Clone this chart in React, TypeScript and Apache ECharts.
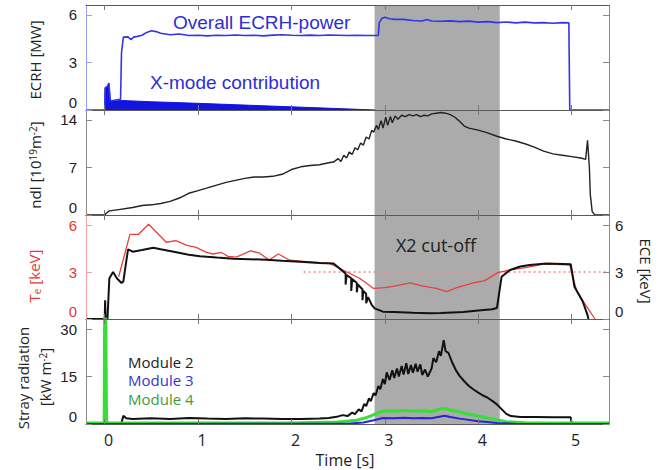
import React, { useEffect, useRef } from 'react';
import * as echarts from 'echarts';

// ---------- data ----------
const timeTicks = [0, 1, 2, 3, 4, 5];
const ecrhTicks = [0, 3, 6];
const ndlTicks = [0, 7, 14];
const teTicks = [0, 3, 6];
const strayTicks = [0, 15, 30];
const cutoffWindow = [2.89, 4.23];
const ecrhThreshold = 3;

const ecrhTotal: number[][] = [
  [-0.2, 0], [0.0, 0], [0.005, 1.4], [0.03, 1.5], [0.045, 1.7], [0.06, 0.6], [0.1, 0.62], [0.17, 0.68],
  [0.18, 3.6], [0.2, 4.6], [0.25, 4.62], [0.28, 4.45], [0.31, 4.6], [0.35, 4.65], [0.4, 4.72], [0.45, 4.9],
  [0.5, 5.0], [0.55, 4.95], [0.6, 4.85], [0.7, 4.75], [0.8, 4.8], [0.9, 4.7], [1.0, 4.72], [1.1, 4.68],
  [1.2, 4.72], [1.3, 4.7], [1.4, 4.74], [1.5, 4.7], [1.6, 4.72], [1.7, 4.68], [1.8, 4.73], [1.9, 4.75],
  [2.0, 4.72], [2.1, 4.7], [2.2, 4.73], [2.3, 4.7], [2.4, 4.74], [2.5, 4.72], [2.6, 4.7], [2.7, 4.72],
  [2.8, 4.7], [2.93, 4.7], [2.94, 5.5], [2.97, 5.8], [3.0, 5.86], [3.05, 5.76], [3.1, 5.72], [3.2, 5.72],
  [3.3, 5.65], [3.4, 5.62], [3.45, 5.72], [3.5, 5.62], [3.6, 5.6], [3.7, 5.63], [3.8, 5.58], [3.9, 5.61],
  [4.0, 5.55], [4.1, 5.58], [4.2, 5.52], [4.3, 5.56], [4.4, 5.5], [4.5, 5.55], [4.6, 5.5], [4.7, 5.52],
  [4.8, 5.48], [4.9, 5.52], [4.97, 5.5], [4.98, 0], [5.4, 0],
];

const xModeContribution: number[][] = [
  [0.0, 0], [0.005, 1.4], [0.03, 1.5], [0.045, 1.7], [0.06, 0.55], [0.18, 0.6], [0.5, 0.52],
  [1.0, 0.42], [1.5, 0.31], [2.0, 0.2], [2.5, 0.09], [2.9, 0],
];

const ndl: number[][] = [
  [-0.2, 0], [0.0, 0], [0.02, 0.3], [0.05, 0.6], [0.15, 0.8], [0.3, 1.1], [0.4, 1.4], [0.5, 1.5],
  [0.6, 1.7], [0.7, 2.0], [0.8, 2.5], [0.9, 3.2], [1.0, 3.6], [1.1, 4.0], [1.2, 4.4], [1.3, 4.8],
  [1.4, 5.1], [1.5, 5.4], [1.6, 5.6], [1.7, 5.6], [1.8, 5.7], [1.9, 6.0], [2.0, 6.7], [2.1, 7.1],
  [2.2, 7.3], [2.3, 7.4], [2.4, 7.7], [2.45, 7.8], [2.5, 8.3], [2.53, 7.9], [2.56, 8.8], [2.59, 8.4],
  [2.62, 9.3], [2.65, 8.9], [2.68, 9.9], [2.71, 9.6], [2.74, 10.6], [2.77, 10.3], [2.8, 11.5], [2.83, 11.2],
  [2.86, 12.5], [2.88, 12.2], [2.91, 13.2], [2.93, 12.6], [2.96, 13.9], [2.98, 12.8], [3.01, 14.4],
  [3.03, 13.2], [3.06, 14.5], [3.08, 13.6], [3.11, 14.6], [3.14, 14.1], [3.18, 14.7], [3.22, 14.5],
  [3.26, 14.8], [3.3, 14.6], [3.34, 14.8], [3.38, 14.5], [3.42, 14.7], [3.46, 14.6], [3.5, 14.9],
  [3.55, 15.0], [3.6, 15.1], [3.65, 15.0], [3.7, 14.8], [3.75, 14.4], [3.8, 13.8], [3.85, 13.1],
  [3.9, 12.8], [4.0, 12.5], [4.1, 12.1], [4.2, 11.6], [4.3, 11.2], [4.4, 10.9], [4.5, 10.5], [4.6, 10.0],
  [4.7, 9.4], [4.8, 9.0], [4.9, 8.8], [5.0, 8.6], [5.1, 8.4], [5.15, 8.2], [5.17, 11.0], [5.19, 7.0],
  [5.2, 3.0], [5.22, 0.5], [5.25, 0], [5.4, 0],
];

const teThomson: number[][] = [
  [0.15, 2.7], [0.27, 5.4], [0.36, 5.4], [0.47, 6.05], [0.66, 4.9], [0.76, 5.0], [0.88, 4.7], [0.98, 4.57],
  [1.09, 4.25], [1.16, 4.15], [1.25, 4.25], [1.32, 4.0], [1.41, 3.95], [1.56, 4.35], [1.66, 4.2],
  [1.76, 3.77], [1.86, 4.15], [1.98, 3.75], [2.1, 3.7], [2.2, 3.65], [2.3, 3.6], [2.41, 3.55],
  [2.55, 3.13], [2.73, 2.6], [2.88, 1.95], [3.0, 2.0], [3.1, 2.1], [3.27, 2.3], [3.41, 2.1], [3.55, 1.95],
  [3.66, 1.75], [3.77, 2.0], [3.95, 2.3], [4.07, 2.45], [4.21, 2.96], [4.34, 3.13], [4.52, 3.3],
  [4.7, 3.5], [4.98, 3.45], [5.05, 1.85], [5.16, 0.8], [5.25, 0.0],
];

const eceSignal: number[][] = [
  [-0.2, 0], [0.0, 0], [0.005, 1.2], [0.01, 0], [0.03, 0], [0.05, 2.6], [0.09, 3.0], [0.13, 2.6],
  [0.18, 2.3], [0.2, 2.4], [0.25, 4.45], [0.3, 4.3], [0.4, 4.4], [0.52, 4.55], [0.6, 4.45], [0.74, 4.3],
  [0.9, 4.1], [1.02, 4.0], [1.2, 3.92], [1.38, 3.85], [1.55, 3.82], [1.73, 3.78], [1.9, 3.72],
  [2.09, 3.66], [2.3, 3.58], [2.45, 3.55], [2.5, 3.3], [2.52, 3.2], [2.58, 2.9], [2.58, 2.2], [2.59, 2.8],
  [2.64, 2.6], [2.64, 1.8], [2.65, 2.55], [2.7, 2.3], [2.7, 1.7], [2.71, 2.2], [2.76, 1.9], [2.76, 1.2],
  [2.77, 1.8], [2.8, 1.6], [2.8, 1.0], [2.82, 1.4], [2.86, 0.9], [2.89, 0.68], [2.98, 0.47], [3.1, 0.45],
  [3.3, 0.4], [3.48, 0.36], [3.6, 0.38], [3.84, 0.45], [4.0, 0.55], [4.15, 0.62], [4.2, 0.7], [4.22, 1.5],
  [4.25, 2.7], [4.34, 3.13], [4.45, 3.35], [4.55, 3.45], [4.73, 3.55], [4.99, 3.5], [5.03, 2.06],
  [5.12, 1.1], [5.17, 0.25], [5.18, 0],
];

const module2: number[][] = [
  [0.0, 0.3], [0.18, 0.3], [0.2, 2.6], [0.23, 1.8], [0.3, 1.6], [0.5, 1.8], [0.7, 1.6], [0.9, 1.9],
  [1.1, 1.7], [1.3, 1.6], [1.5, 1.8], [1.7, 1.7], [1.9, 1.6], [2.1, 1.6], [2.3, 1.7], [2.4, 1.9],
  [2.5, 2.4], [2.55, 2.8], [2.6, 2.5], [2.65, 3.6], [2.68, 3.1], [2.72, 4.6], [2.75, 4.0], [2.78, 6.4],
  [2.8, 5.6], [2.83, 8.1], [2.85, 7.2], [2.88, 9.8], [2.9, 9.0], [2.93, 12.0], [2.95, 11.0], [2.98, 14.2],
  [3.0, 12.6], [3.02, 16.3], [3.05, 13.9], [3.08, 17.0], [3.1, 14.5], [3.13, 17.5], [3.15, 15.0],
  [3.18, 18.3], [3.2, 15.6], [3.23, 19.2], [3.25, 15.8], [3.28, 18.6], [3.3, 16.2], [3.33, 19.0],
  [3.35, 16.5], [3.38, 18.8], [3.4, 15.5], [3.43, 17.2], [3.46, 15.0], [3.5, 17.5], [3.52, 20.8],
  [3.55, 19.5], [3.58, 23.0], [3.6, 21.5], [3.63, 26.5], [3.65, 23.0], [3.68, 22.5], [3.72, 19.5],
  [3.76, 17.0], [3.8, 15.2], [3.85, 13.5], [3.9, 12.0], [3.95, 10.9], [4.0, 9.9], [4.05, 9.0],
  [4.1, 8.3], [4.15, 7.3], [4.2, 6.2], [4.25, 4.7], [4.3, 3.2], [4.35, 2.5], [4.45, 2.2], [4.6, 2.2],
  [4.8, 2.1], [4.99, 2.1], [5.0, 0.3],
];

const module3: number[][] = [
  [-0.2, 0], [2.6, 0.1], [2.77, 0.5], [2.88, 1.2], [2.98, 1.9], [3.1, 1.8], [3.2, 2.0], [3.3, 1.8],
  [3.4, 1.9], [3.5, 1.8], [3.64, 2.6], [3.7, 2.2], [3.8, 1.7], [3.9, 1.3], [4.0, 0.9], [4.1, 0.6],
  [4.2, 0.3], [4.4, 0.1], [5.4, 0],
];

const module4: number[][] = [
  [-0.2, 0.3], [-0.005, 0.3], [0.0, 40], [0.01, 40], [0.02, 0.5], [0.05, 0.3], [0.5, 0.3], [1.0, 0.3],
  [1.5, 0.3], [2.0, 0.3], [2.5, 0.6], [2.7, 1.2], [2.8, 2.0], [2.87, 2.8], [2.95, 3.8], [3.0, 4.2],
  [3.1, 4.0], [3.2, 4.3], [3.3, 4.1], [3.4, 4.2], [3.5, 3.9], [3.6, 4.8], [3.65, 4.9], [3.7, 4.4],
  [3.8, 3.8], [3.9, 3.1], [4.0, 2.5], [4.1, 1.9], [4.2, 1.3], [4.3, 0.7], [4.5, 0.4], [5.4, 0.3],
];

// ---------- layout / styles ----------
const FONT = '"Open Sans", "DejaVu Sans", sans-serif';
const ARIAL = '"Liberation Sans", Arial, sans-serif';
const X_MIN = -0.2;
const X_MAX = 5.4;
const grids = [
  { left: 86, top: 5, width: 523, height: 105 },
  { left: 86, top: 110, width: 523, height: 105 },
  { left: 86, top: 215, width: 523, height: 104 },
  { left: 86, top: 319, width: 523, height: 105 },
];
const yMaxes = [6.63, 15.47, 6.64, 33.16];
const yTicks = [ecrhTicks, ndlTicks, teTicks, strayTicks];
const leftColors = ['#9c9cf0', '#8a8a8a', '#f0a0a0', '#8a8a8a'];
const leftLabelColors = ['#222', '#222', '#e53935', '#222'];

export default function App() {
  const ref = useRef<HTMLDivElement>(null);
  useEffect(() => {
    const chart = echarts.init(ref.current!, null, { renderer: 'svg' });

    const xAxis: any[] = [];
    const yAxis: any[] = [];
    grids.forEach((_, i) => {
      const base = {
        type: 'value',
        gridIndex: i,
        min: X_MIN,
        max: X_MAX,
        z: 10,
        splitLine: { show: false },
        axisLine: { show: true, onZero: false, lineStyle: { color: '#5a5a5a', width: 1 } },
        axisTick: { show: true, inside: true, length: 5, customValues: timeTicks, lineStyle: { color: '#777' } },
      };
      xAxis.push({
        ...base,
        position: 'bottom',
        axisLabel: i === 3
          ? { show: true, customValues: timeTicks, color: '#222', fontSize: 16, fontFamily: FONT, margin: 8, padding: [0, 0, 0, 8] }
          : { show: false },
      });
      xAxis.push({ ...base, position: 'top', axisLabel: { show: false } });

      const ybase = {
        type: 'value',
        gridIndex: i,
        min: 0,
        max: yMaxes[i],
        z: 10,
        splitLine: { show: false },
      };
      yAxis.push({
        ...ybase,
        position: 'left',
        axisLine: { show: true, onZero: false, lineStyle: { color: leftColors[i], width: 1 } },
        axisTick: { show: true, inside: true, length: 6, customValues: yTicks[i], lineStyle: { color: leftColors[i] } },
        axisLabel: {
          show: true,
          customValues: yTicks[i],
          color: leftLabelColors[i],
          fontSize: 15,
          fontFamily: ARIAL,
          margin: 9,
          verticalAlignMinLabel: 'bottom',
        },
      });
      yAxis.push({
        ...ybase,
        position: 'right',
        axisLine: { show: true, onZero: false, lineStyle: { color: '#8a8a8a', width: 1 } },
        axisTick: { show: true, inside: true, length: 6, customValues: yTicks[i], lineStyle: { color: '#8a8a8a' } },
        axisLabel: i === 2
          ? {
              show: true,
              customValues: yTicks[i],
              color: '#222',
              fontSize: 15,
              fontFamily: ARIAL,
              margin: 6,
              verticalAlignMinLabel: 'bottom',
            }
          : { show: false },
      });
    });

    const shading = grids.map((_, i) => ({
      type: 'line',
      xAxisIndex: 2 * i,
      yAxisIndex: 2 * i,
      data: [[cutoffWindow[0], 0], [cutoffWindow[1], 0]],
      showSymbol: false,
      lineStyle: { width: 0, opacity: 0 },
      silent: true,
      z: 1,
      markArea: {
        silent: true,
        itemStyle: { color: '#ababab', opacity: 1 },
        data: [[{ xAxis: cutoffWindow[0] }, { xAxis: cutoffWindow[1] }]],
      },
    }));

    const line = (data: number[][], gi: number, yi: number, color: string, width: number, extra: any = {}) => ({
      type: 'line',
      xAxisIndex: 2 * gi,
      yAxisIndex: yi,
      data,
      showSymbol: false,
      symbol: 'none',
      lineStyle: { color, width },
      itemStyle: { color },
      z: 3,
      ...extra,
    });

    const titleText = (x: number, y: number, rot: number, text: string, rich: any, fill = '#222') => ({
      type: 'text',
      x,
      y,
      rotation: rot,
      z: 100,
      style: {
        text,
        rich,
        fill,
        fontSize: 15,
        fontFamily: FONT,
        align: 'center',
        verticalAlign: 'middle',
        textAlign: 'center',
        textVerticalAlign: 'middle',
      },
    });

    const plain = (c: string) => ({ a: { fontSize: 15, fontFamily: FONT, fill: c, color: c } });
    const label = (x: number, y: number, text: string, fill: string, size: number, family: string, align = 'left') => ({
      type: 'text', x, y, z: 100,
      style: { text, fill, fontSize: size, fontFamily: family, align, verticalAlign: 'middle', textAlign: align, textVerticalAlign: 'middle' },
    });

    const option: any = {
      animation: false,
      backgroundColor: '#fff',
      grid: grids,
      xAxis,
      yAxis,
      series: [
        ...shading,
        line(xModeContribution, 0, 0, '#1414e0', 1, { areaStyle: { color: '#1414e0', opacity: 1 } }),
        line(ecrhTotal, 0, 0, '#3434ec', 1.6),
        line(ndl, 1, 2, '#222', 1.4),
        line([[2.13, ecrhThreshold], [X_MAX, ecrhThreshold]], 2, 4, '#f08a8a', 1.5, { lineStyle: { color: '#f08a8a', width: 1.5, type: [2, 3] } }),
        line(teThomson, 2, 4, '#e8403f', 1.3),
        line(eceSignal, 2, 5, '#111', 2),
        line(module2, 3, 6, '#111', 2),
        line(module4, 3, 6, '#33e033', 3),
        line(module3, 3, 6, '#2424d8', 2),
      ],
      graphic: [
        titleText(35, 60, Math.PI / 2, '{a|ECRH [MW]}', plain('#222')),
        titleText(35, 165, Math.PI / 2, '{a|ndl [10}{s|19}{a|m}{s|-2}{a|]}', {
          a: { fontSize: 15, fontFamily: FONT, fill: '#222', color: '#222' },
          s: { fontSize: 10, fontFamily: FONT, fill: '#222', color: '#222', verticalAlign: 'top' },
        }),
        titleText(34, 276, Math.PI / 2, '{a|T}{b|e}{a| [keV]}', {
          a: { fontSize: 15, fontFamily: FONT, fill: '#e53935', color: '#e53935' },
          b: { fontSize: 10, fontFamily: FONT, fill: '#e53935', color: '#e53935', verticalAlign: 'bottom' },
        }),
        titleText(23, 378, Math.PI / 2, '{a|Stray radiation}', plain('#222')),
        titleText(45, 377, Math.PI / 2, '{a|[kW m}{s|-2}{a|]}', {
          a: { fontSize: 15, fontFamily: FONT, fill: '#222', color: '#222' },
          s: { fontSize: 10, fontFamily: FONT, fill: '#222', color: '#222', verticalAlign: 'top' },
        }),
        titleText(646, 271, -Math.PI / 2, '{a|ECE [keV]}', plain('#222')),
        label(345, 460, 'Time [s]', '#222', 16, FONT, 'center'),
        label(173, 22, 'Overall ECRH-power', '#2d2dd8', 19, ARIAL),
        label(150, 82, 'X-mode contribution', '#2d2dd8', 19, ARIAL),
        label(436, 245, 'X2 cut-off', '#222', 18, FONT, 'center'),
        label(128, 361.5, 'Module 2', '#222', 15, FONT),
        label(128, 380, 'Module 3', '#3434d0', 15, FONT),
        label(128, 398.5, 'Module 4', '#3a9e3a', 15, FONT),
      ],
    };

    chart.setOption(option);
    return () => chart.dispose();
  }, []);

  return (
    <div
      ref={ref}
      style={{ position: 'fixed', left: 0, top: 0, width: 665, height: 470, background: '#fff' }}
    />
  );
}
